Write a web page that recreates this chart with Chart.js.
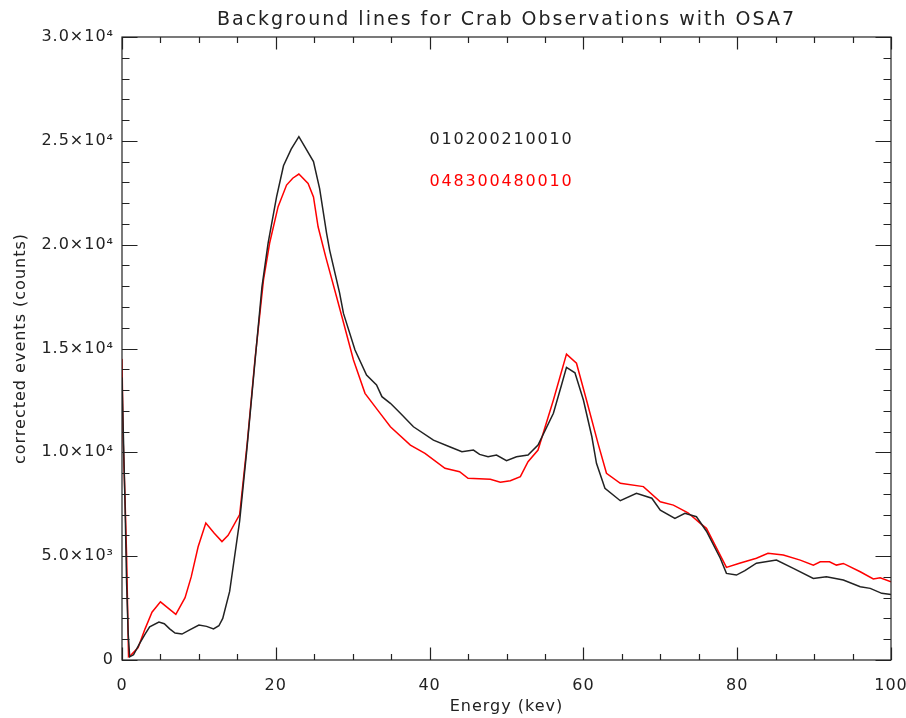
<!DOCTYPE html>
<html>
<head>
<meta charset="utf-8">
<script src="https://cdn.jsdelivr.net/npm/chart.js"></script>
<style>
  html, body { margin: 0; padding: 0; background: #fff; }
  #wrap { width: 906px; height: 718px; }
</style>
</head>
<body>
<div id="wrap"><canvas id="chart"></canvas></div>
<script>
// energy (keV) / corrected events
const blackEnergy = [0, 0.4, 0.6, 0.8, 1.0, 1.5, 2.3, 3, 3.6, 4.8, 5.5, 6.2, 6.9, 7.8, 8.8, 10, 11, 11.9, 12.6, 13.1, 14, 15.3, 16.2, 17.2, 18.2, 19, 20.1, 21, 22, 23, 23.8, 24.9, 25.7, 26.6, 27, 28.3, 28.8, 30.3, 31.8, 33.1, 33.8, 34.9, 36.2, 37.9, 40.5, 42.6, 44.2, 45.7, 46.5, 47.6, 48.7, 50, 51.3, 52.8, 54.1, 56.1, 57.2, 57.8, 58.9, 60, 61.1, 61.7, 62.8, 64.8, 66.9, 68.9, 70, 71.9, 73.2, 74.7, 76, 77.8, 78.6, 79.9, 81, 82.5, 85.1, 87.3, 89.9, 91.6, 93.8, 96, 97.3, 98.8, 100];
const blackCounts = [13600, 7400, 3700, 1300, 150, 250, 800, 1250, 1600, 1830, 1750, 1500, 1300, 1250, 1450, 1680, 1620, 1500, 1650, 2000, 3300, 6700, 10000, 14000, 17970, 20070, 22300, 23800, 24600, 25200, 24700, 24000, 22700, 20560, 19740, 17670, 16690, 14930, 13720, 13240, 12680, 12360, 11880, 11230, 10590, 10270, 10030, 10110, 9900, 9790, 9870, 9600, 9790, 9870, 10350, 11880, 13300, 14090, 13830, 12520, 10750, 9470, 8270, 7670, 8030, 7790, 7220, 6820, 7060, 6900, 6200, 4900, 4170, 4090, 4300, 4660, 4810, 4410, 3930, 4010, 3850, 3530, 3450, 3210, 3150];

const redEnergy = [0, 0.15, 0.4, 0.6, 0.85, 1.2, 2.1, 3, 3.9, 5, 6, 7, 8.2, 9, 9.9, 10.9, 12, 13, 13.8, 15.3, 16.3, 17.3, 18.4, 19.2, 20.3, 21.4, 22.2, 23, 24.2, 24.9, 25.5, 26.5, 27.9, 28.6, 30.1, 31.6, 33.4, 34.9, 37.5, 39.4, 42, 43.9, 45, 47.9, 49.2, 50.5, 51.8, 52.8, 54.1, 56.1, 57.8, 59.1, 60.4, 61.9, 63, 64.8, 67.8, 70, 71.7, 73.6, 75.2, 76, 78.6, 80.3, 82.5, 84, 86, 88.2, 89.9, 90.8, 92, 92.9, 93.8, 96, 97.7, 98.6, 100];
const redCounts = [14500, 10600, 7700, 5000, 160, 250, 600, 1500, 2300, 2800, 2500, 2200, 3000, 4000, 5450, 6600, 6100, 5700, 6000, 7000, 10500, 14500, 18300, 20080, 21830, 22870, 23200, 23400, 22950, 22300, 20860, 19400, 17490, 16530, 14450, 12840, 11960, 11230, 10350, 9950, 9230, 9070, 8750, 8700, 8560, 8630, 8830, 9550, 10110, 12520, 14730, 14290, 12520, 10430, 8990, 8510, 8350, 7620, 7460, 7090, 6580, 6340, 4460, 4660, 4900, 5140, 5060, 4810, 4570, 4730, 4730, 4570, 4650, 4250, 3900, 3960, 3770];

const seriesNames = ['010200210010', '048300480010'];
const seriesColors = ['#222222', '#ff0000'];
const titleText = 'Background lines for Crab Observations with OSA7';

function toPoints(xs, ys) {
    return xs.map((x, i) => ({ x: x, y: ys[i] }));
}

function yLabel(v) {
    if (v === 0) return '0';
    if (v >= 10000) return (v / 10000).toFixed(1) + '×10⁴';
    return (v / 1000).toFixed(1) + '×10³';
}

// IDL style box with inward ticks, title and text legend
const idlFrame = {
    id: 'idlFrame',
    beforeDraw(chart) {
        // the original vector font is wide, open the letters up a bit
        chart.ctx.letterSpacing = '1px';
    },
    afterDraw(chart) {
        const ctx = chart.ctx;
        const a = chart.chartArea;
        const xs = chart.scales.x;
        const ys = chart.scales.y;
        ctx.save();
        ctx.strokeStyle = '#222';
        ctx.lineWidth = 1.2;
        ctx.strokeRect(a.left, a.top, a.right - a.left, a.bottom - a.top);

        ctx.beginPath();
        for (let e = 0; e <= 100; e += 5) {
            const px = Math.round(xs.getPixelForValue(e)) + 0.5;
            const len = e % 20 === 0 ? 12.5 : 6;
            ctx.moveTo(px, a.bottom); ctx.lineTo(px, a.bottom - len);
            ctx.moveTo(px, a.top); ctx.lineTo(px, a.top + len);
        }
        for (let v = 0; v <= 30000; v += 1000) {
            const py = Math.round(ys.getPixelForValue(v)) + 0.5;
            const len = v % 5000 === 0 ? 15.5 : 7.5;
            ctx.moveTo(a.left, py); ctx.lineTo(a.left + len, py);
            ctx.moveTo(a.right, py); ctx.lineTo(a.right - len, py);
        }
        ctx.stroke();

        // title
        ctx.fillStyle = '#222';
        ctx.font = '19px "DejaVu Sans"';
        ctx.letterSpacing = '2px';
        ctx.textAlign = 'center';
        ctx.textBaseline = 'middle';
        ctx.fillText(titleText, (a.left + a.right) / 2, 20);

        // legend text
        ctx.font = '16px "DejaVu Sans"';
        ctx.letterSpacing = '1.8px';
        ctx.textAlign = 'left';
        const lx = xs.getPixelForValue(40);
        ctx.fillStyle = seriesColors[0];
        ctx.fillText(seriesNames[0], lx, ys.getPixelForValue(25000) - 1);
        ctx.fillStyle = seriesColors[1];
        ctx.fillText(seriesNames[1], lx, ys.getPixelForValue(23000) - 1);
        ctx.restore();
    }
};

new Chart(document.getElementById('chart'), {
    type: 'line',
    data: {
        datasets: [
            {
                label: seriesNames[0],
                data: toPoints(blackEnergy, blackCounts),
                borderColor: seriesColors[0],
                borderWidth: 1.5,
                pointRadius: 0,
                tension: 0
            },
            {
                label: seriesNames[1],
                data: toPoints(redEnergy, redCounts),
                borderColor: seriesColors[1],
                borderWidth: 1.5,
                pointRadius: 0,
                tension: 0
            }
        ]
    },
    options: {
        responsive: true,
        maintainAspectRatio: false,
        animation: false,
        layout: { padding: { top: 37, right: 15, left: 0, bottom: 0 } },
        plugins: {
            legend: { display: false },
            tooltip: { enabled: false },
            title: { display: false }
        },
        scales: {
            x: {
                type: 'linear',
                min: 0,
                max: 100,
                grid: { display: false },
                border: { display: false },
                ticks: {
                    stepSize: 20,
                    color: '#222',
                    padding: 8,
                    maxRotation: 0,
                    font: { family: 'DejaVu Sans', size: 16 }
                },
                title: {
                    display: true,
                    text: 'Energy (kev)',
                    color: '#222',
                    padding: { top: 0, bottom: 2 },
                    font: { family: 'DejaVu Sans', size: 16 }
                },
                afterFit(scale) {
                    scale.height = 58;
                    // let the "100" label hang over the right margin like the original
                    scale.paddingRight = 0;
                    scale.paddingLeft = 0;
                }
            },
            y: {
                type: 'linear',
                min: 0,
                max: 30000,
                grid: { display: false },
                border: { display: false },
                ticks: {
                    stepSize: 5000,
                    color: '#222',
                    padding: 0,
                    font: { family: 'DejaVu Sans', size: 16 },
                    callback: yLabel
                },
                title: {
                    display: true,
                    text: 'corrected events (counts)',
                    color: '#222',
                    padding: { top: 11, bottom: 0 },
                    font: { family: 'DejaVu Sans', size: 16 }
                },
                afterFit(scale) {
                    scale.width = 122;
                    scale.paddingTop = 0;
                    scale.paddingBottom = 0;
                }
            }
        }
    },
    plugins: [idlFrame]
});
</script>
</body>
</html>
